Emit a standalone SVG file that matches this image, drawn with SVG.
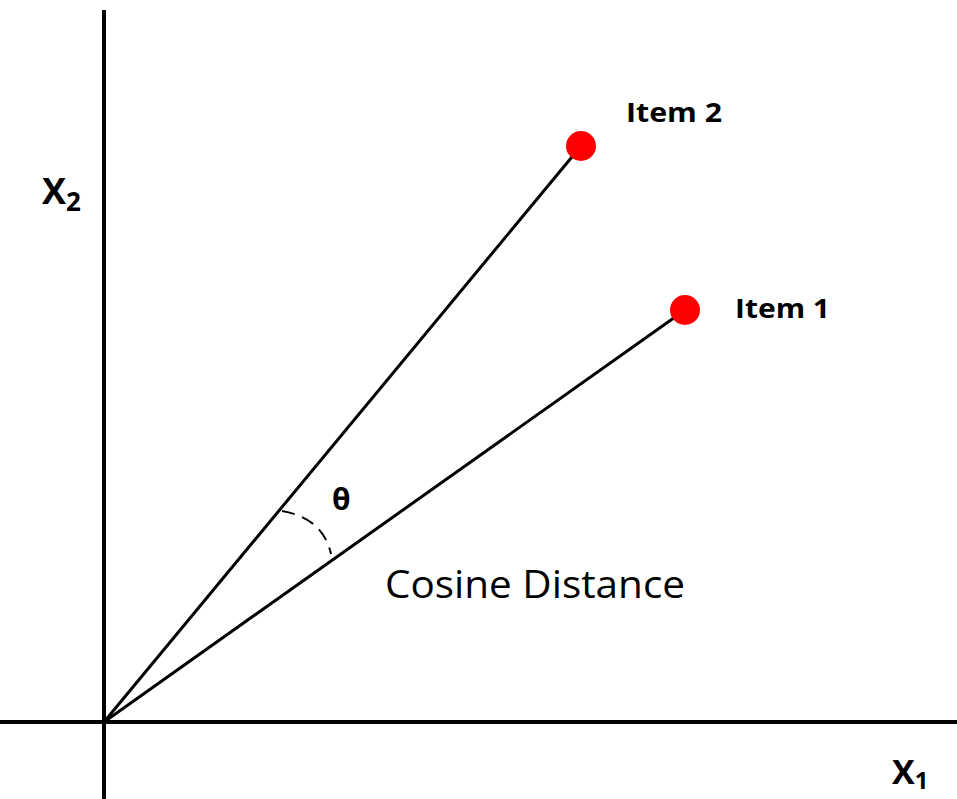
<svg xmlns="http://www.w3.org/2000/svg" width="957" height="799" viewBox="0 0 957 799">
<style>
.axis{stroke:#000;stroke-width:4;fill:none}
.vec{stroke:#000;stroke-width:3;fill:none}
.pt{fill:#ff0000}
.lbl{font-family:"Open Sans","Liberation Sans",sans-serif;fill:#000}
.b{font-weight:bold}
</style>
<rect width="957" height="799" fill="#fff"/>
<g id="connectors">
<line class="axis" x1="104" y1="10" x2="104" y2="799"/>
<line class="axis" x1="0" y1="722" x2="957" y2="722"/>
<line class="vec" x1="104" y1="722" x2="581" y2="146"/>
<line class="vec" x1="104" y1="722" x2="685" y2="310"/>
<path d="M282,511 Q323,518 331,554" fill="none" stroke="#000" stroke-width="2" stroke-dasharray="13,8"/>
</g>
<g id="item2"><circle class="pt" cx="581" cy="146" r="15"/><text class="lbl b" x="626" y="122" font-size="27" textLength="96" lengthAdjust="spacingAndGlyphs">Item 2</text></g>
<g id="item1"><circle class="pt" cx="685" cy="310" r="15"/><text class="lbl b" x="735" y="318" font-size="27" textLength="95" lengthAdjust="spacingAndGlyphs">Item 1</text></g>
<g id="theta"><text class="lbl b" x="332" y="510" font-size="30">θ</text></g>
<g id="cosine"><text class="lbl" x="385" y="598" font-size="38" textLength="300" lengthAdjust="spacingAndGlyphs">Cosine Distance</text></g>
<g id="x2"><text class="lbl b" x="42" y="204" font-size="36">X<tspan font-size="26" dy="7">2</tspan></text></g>
<g id="x1"><text class="lbl b" x="892" y="784" font-size="34">X<tspan font-size="24" dy="5">1</tspan></text></g>
</svg>
